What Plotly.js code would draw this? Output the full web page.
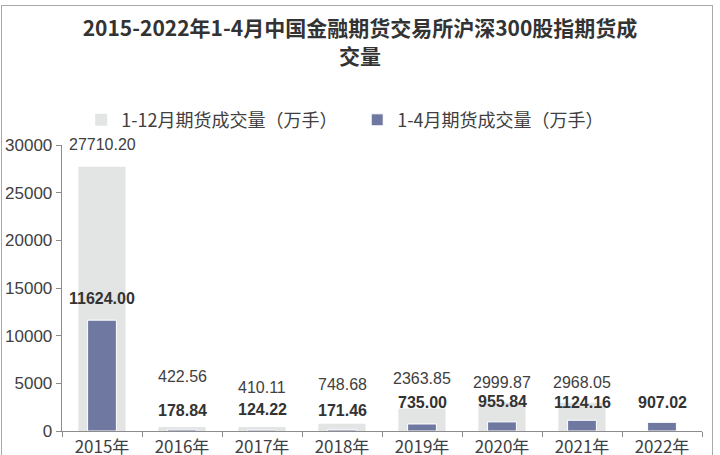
<!DOCTYPE html>
<html>
<head>
<meta charset="utf-8">
<script src="https://cdn.plot.ly/plotly-3.0.1.min.js"></script>
<style>
  html, body { margin: 0; padding: 0; background: #fff; }
  #wrap { position: relative; width: 720px; height: 455px; overflow: hidden; }
  #chart { width: 720px; height: 455px; }
  #frame { position: absolute; left: 1px; top: 5px; width: 712px; height: 470px;
           border: 1.5px solid #a9a9a9; box-sizing: border-box; pointer-events: none; }
</style>
</head>
<body>
<div id="wrap">
  <div id="chart"></div>
  <div id="frame"></div>
</div>
<script>
// ---- data ----
const categories = ['2015年', '2016年', '2017年', '2018年', '2019年', '2020年', '2021年', '2022年'];
const fullYear = [27710.20, 422.56, 410.11, 748.68, 2363.85, 2999.87, 2968.05, null];   // 1-12月期货成交量（万手）
const janApr   = [11624.00, 178.84, 124.22, 171.46, 735.00, 955.84, 1124.16, 907.02];   // 1-4月期货成交量（万手）
const seriesNames = ['1-12月期货成交量（万手）', '1-4月期货成交量（万手）'];
const yTicks = [0, 5000, 10000, 15000, 20000, 25000, 30000];

// ---- label placement (style, pixels above bar top) ----
const fullLabelShift = [22, 50, 40, 39, 30, 20, 20, 0];
const aprLabelShift  = [22, 19, 20, 19, 21, 20, 18, 20];

const labelFont = 'Liberation Sans, Arial, sans-serif';
const cjkFont = '"Noto Sans CJK SC", sans-serif';

const traces = [
  {
    type: 'bar', name: seriesNames[0], x: categories, y: fullYear,
    width: 0.59, marker: { color: '#e3e4e4' }, hoverinfo: 'skip'
  },
  {
    type: 'bar', name: seriesNames[1], x: categories, y: janApr,
    width: 0.36, marker: { color: '#6f78a0', line: { color: '#ffffff', width: 1 } }, hoverinfo: 'skip'
  }
];

const annotations = [];
categories.forEach((c, i) => {
  if (fullYear[i] !== null) {
    annotations.push({
      x: c, y: fullYear[i], xref: 'x', yref: 'y', yshift: fullLabelShift[i],
      text: fullYear[i].toFixed(2), showarrow: false, yanchor: 'middle',
      font: { family: labelFont, size: 16, color: '#404040' }
    });
  }
  annotations.push({
    x: c, y: janApr[i], xref: 'x', yref: 'y', yshift: aprLabelShift[i],
    text: '<b>' + janApr[i].toFixed(2) + '</b>', showarrow: false, yanchor: 'middle',
    font: { family: labelFont, size: 16, color: '#333333' }
  });
});

const layout = {
  width: 720, height: 455,
  margin: { l: 62, r: 18, t: 145, b: 24 },
  paper_bgcolor: '#ffffff', plot_bgcolor: '#ffffff',
  barmode: 'overlay',
  title: {
    text: '<b>2015-2022年1-4月中国金融期货交易所沪深300股指期货成<br>交量</b>',
    font: { family: cjkFont, size: 21, color: '#333333' },
    x: 0.5, xanchor: 'center', y: 0.92, yanchor: 'middle', yref: 'container'
  },
  showlegend: true,
  legend: {
    orientation: 'h', x: 0.03, xanchor: 'left', y: 1.087, yanchor: 'middle',
    font: { family: cjkFont, size: 18, color: '#404040' },
    itemwidth: 30, traceorder: 'normal', entrywidth: 231, entrywidthmode: 'pixels'
  },
  xaxis: {
    type: 'category', showgrid: false, zeroline: false,
    showline: true, linecolor: '#8c8c8c', linewidth: 1.3,
    ticks: 'outside', tickson: 'boundaries', ticklen: 5, tickcolor: '#8c8c8c',
    tickfont: { family: cjkFont, size: 17, color: '#404040' },
    fixedrange: true
  },
  yaxis: {
    range: [0, 30000], tickvals: yTicks, ticktext: yTicks.map(String),
    showgrid: false, zeroline: false,
    showline: true, linecolor: '#8c8c8c', linewidth: 1.3,
    ticks: 'outside', ticklen: 5, tickcolor: '#8c8c8c',
    tickfont: { family: labelFont, size: 17, color: '#404040' },
    fixedrange: true
  },
  annotations: annotations
};

Plotly.newPlot('chart', traces, layout, { displayModeBar: false, staticPlot: true });
</script>
</body>
</html>
